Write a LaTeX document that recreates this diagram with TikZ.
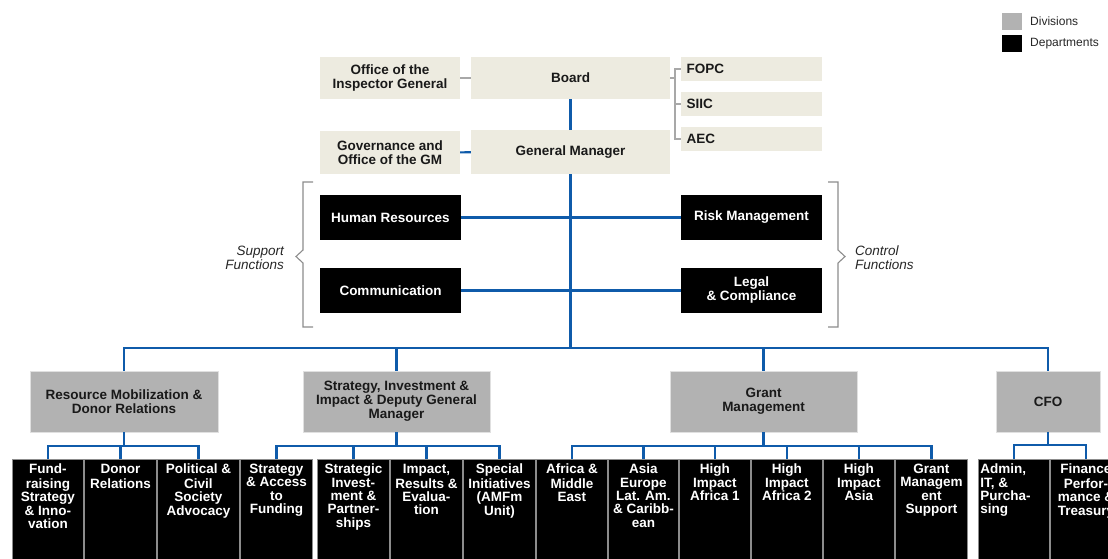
\documentclass[tikz,border=0pt]{standalone}
\usepackage{fontspec}
\setmainfont{Liberation Sans}
\definecolor{beige}{HTML}{EDEBE0}
\definecolor{divgray}{HTML}{B2B2B2}
\definecolor{linkblue}{HTML}{0F5BAA}
\definecolor{brgray}{HTML}{A8A8A8}
\newcommand\orgbox[7]{%
  \pgfmathsetmacro\bw{#4-#2}\pgfmathsetmacro\bh{#5-#3}%
  \node[#6, minimum width=\bw pt, minimum height=\bh pt] (#1) at ({(#2+#4)/2},{(#3+#5)/2}) {#7};}
\newcommand\deptbx[5]{%
  \pgfmathsetmacro\dw{#3-#2}%
  \node[deptbox, minimum width=\dw pt, anchor=north west] (#1) at (#2,459)
    {\parbox[t][100pt][t]{\dimexpr\dw pt-4pt\relax}{#4\strut#5}};}
\tikzset{
  boxfont/.style={font=\fontsize{13.5}{14}\selectfont\bfseries},
  beigebox/.style={boxfont, fill=beige, inner sep=2pt, align=center, text=black!90},
  beigeleft/.style={beigebox, text width=130pt, align=left, inner xsep=4pt},
  blackbox/.style={boxfont, fill=black, text=white, inner sep=2pt, align=center},
  divbox/.style={boxfont, fill=divgray, draw=black!12, line width=0.6pt, inner sep=2pt, align=center, text=black!90},
  deptbox/.style={font=\fontsize{13.5}{13.4}\selectfont\bfseries, fill=black, draw=black!45, line width=0.9pt, text=white, inner xsep=2pt, inner ysep=4.5pt},
  bluelink/.style={draw=linkblue, line width=2.1pt},
  graylink/.style={draw=brgray, line width=2pt},
  bracketline/.style={draw=black!45, line width=1.1pt},
  italiclbl/.style={font=\fontsize{13.5}{14}\selectfont\itshape, inner sep=0pt, text=black!85},
  legendtxt/.style={font=\fontsize{12}{14}\selectfont, inner sep=0pt, text=black!85},
}
\begin{document}
\begin{tikzpicture}[x=1pt, y=-1pt]
\useasboundingbox (0,0) rectangle (1108,558);
\clip (0,0) rectangle (1108,558);

% legend
\orgbox{lgdiv}{1002}{13}{1022}{30}{fill=divgray, inner sep=0pt}{}
\orgbox{lgdep}{1002}{35}{1022}{52}{fill=black, inner sep=0pt}{}
\node[legendtxt, anchor=west] (lgdivt) at (1030,21.5) {Divisions};
\node[legendtxt, anchor=west] (lgdept) at (1030,44) {Departments};

% top
\orgbox{oig}{320}{57}{460}{99}{beigebox}{Office of the\\Inspector General}
\orgbox{board}{471}{57}{670}{99}{beigebox}{Board}
\orgbox{fopc}{681}{57}{822}{81}{beigeleft}{FOPC}
\orgbox{siic}{681}{92}{822}{116}{beigeleft}{SIIC}
\orgbox{aec}{681}{127}{822}{151}{beigeleft}{AEC}
\orgbox{gov}{320}{131}{460}{174}{beigebox}{Governance and\\Office of the GM}
\orgbox{gm}{471}{130}{670}{174}{beigebox}{General Manager}

% support / control
\orgbox{hr}{320}{195}{461}{240}{blackbox}{Human Resources}
\orgbox{comm}{320}{268}{461}{313}{blackbox}{Communication}
\orgbox{risk}{681}{195}{822}{240}{blackbox}{Risk Management}
\orgbox{legal}{681}{268}{822}{313}{blackbox}{Legal\\\& Compliance}

\node[italiclbl, anchor=east, align=right] (suplbl) at (284,258) {Support\\Functions};
\node[italiclbl, anchor=west, align=left] (ctllbl) at (855,258) {Control\\Functions};
\draw[bracketline] (313,182) -- (303,182) -- (303,250) -- (296,256.5) -- (303,263) -- (303,327) -- (313,327);
\draw[bracketline] (828,182) -- (838,182) -- (838,250) -- (845,256.5) -- (838,263) -- (838,327) -- (828,327);

% divisions
\orgbox{rmdr}{30}{371}{218}{432}{divbox}{Resource Mobilization \&\\Donor Relations}
\orgbox{sidgm}{303}{371}{490}{432}{divbox}{Strategy, Investment \&\\Impact \& Deputy General\\Manager}
\orgbox{grant}{670}{371}{857}{432}{divbox}{Grant\\Management}
\orgbox{cfo}{996}{371}{1100}{432}{divbox}{CFO}

% departments
\deptbx{fund}{12}{83}{\centering}{Fund-\\raising\\Strategy\\\& Inno-\\vation}
\deptbx{donor}{84}{156}{\centering}{Donor\\Relations}
\deptbx{polit}{157}{239}{\centering}{Political \&\\Civil\\Society\\Advocacy}
\deptbx{sacc}{240}{312}{\centering}{Strategy\\\& Access\\to\\Funding}
\deptbx{sinv}{317}{389}{\centering}{Strategic\\Invest-\\ment \&\\Partner-\\ships}
\deptbx{impact}{390}{462}{\centering}{Impact,\\Results \&\\Evalua-\\tion}
\deptbx{special}{463}{535}{\centering}{Special\\Initiatives\\(AMFm\\Unit)}
\deptbx{africa}{536}{607}{\centering}{Africa \&\\Middle\\East}
\deptbx{asia}{608}{678}{\centering}{Asia\\Europe\\Lat. Am.\\\& Caribb-\\ean}
\deptbx{hiaa}{679}{750}{\centering}{High\\Impact\\Africa 1}
\deptbx{hiab}{751}{822}{\centering}{High\\Impact\\Africa 2}
\deptbx{hiasia}{823}{894}{\centering}{High\\Impact\\Asia}
\deptbx{gms}{895}{967}{\centering}{Grant\\Managem\\ent\\Support}
\deptbx{admin}{978}{1049}{\raggedright}{Admin,\\IT, \&\\Purcha-\\sing}
\deptbx{fin}{1050}{1121}{\centering}{Finance\\Perfor-\\mance \&\\Treasury}

% connectors top
\draw[graylink] (oig) -- (board);
\draw[graylink] (board.east) -- ++(5.5,0);
\draw[graylink] (fopc.west) -- ++(-5.5,0) |- (aec.west);
\draw[graylink] (siic.west) -- ++(-5.5,0);
\draw[bluelink] (board) -- (gm);
\draw[bluelink] (gov) -- (gm);
\draw[bluelink] (hr) -- (risk);
\draw[bluelink] (comm) -- (legal);
\coordinate (bus) at (570.5,348);
\draw[bluelink] (gm.south) -- (bus);
\foreach \d in {rmdr,sidgm,grant,cfo} \draw[bluelink] (bus) -| (\d.north);

% connectors to departments
\foreach \c in {fund,donor,polit} \draw[bluelink] (rmdr.south) -- ++(0,14) -| (\c.north);
\foreach \c in {sacc,sinv,impact,special} \draw[bluelink] (sidgm.south) -- ++(0,14) -| (\c.north);
\foreach \c in {africa,asia,hiaa,hiab,hiasia,gms} \draw[bluelink] (grant.south) -- ++(0,14) -| (\c.north);
\foreach \c in {admin,fin} \draw[bluelink] (cfo.south) -- ++(0,13) -| (\c.north);
\end{tikzpicture}
\end{document}
